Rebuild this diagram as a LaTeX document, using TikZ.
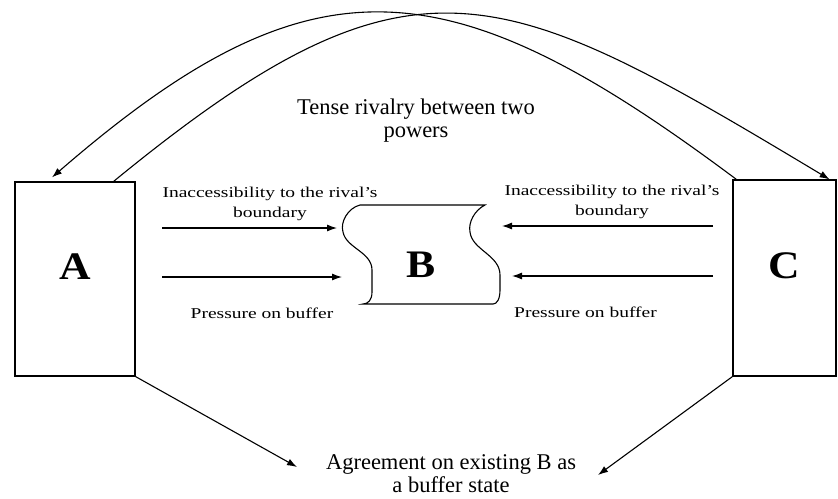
\documentclass[tikz,border=0pt]{standalone}
\usepackage{fontspec}
\setmainfont{Liberation Serif}
\newfontfamily\widefont[FakeStretch=1.3]{Liberation Serif}
\newfontfamily\letterfont[FakeStretch=1.12]{Liberation Serif}
\usetikzlibrary{arrows.meta}
\tikzstyle{link}=[draw, line width=1.1pt, -{Latex[length=10pt,width=7pt]}]
\tikzstyle{powerbox}=[draw, line width=1.2pt, inner sep=0pt, text depth=24pt,
    font=\letterfont\bfseries\fontsize{39}{39}\selectfont]
\tikzstyle{sidenote}=[inner sep=0pt, align=center, font=\widefont\fontsize{15}{20}\selectfont]
\tikzstyle{bigtext}=[inner sep=0pt, align=center, font=\fontsize{22.5}{23}\selectfont]

\begin{document}
\begin{tikzpicture}[x=1pt, y=-1pt, every edge/.style={link}]
\useasboundingbox (0,0) rectangle (838,498);
% the three states
\node[powerbox, minimum width=120pt, minimum height=194pt] (A) at (75,279) {A};
\node[powerbox, minimum width=103pt, minimum height=196pt] (C) at (784.5,278) {C};
\node[font=\letterfont\bfseries\fontsize{39}{39}\selectfont, inner sep=0pt] (B) at (421,265) {B};
\draw[line width=1.1pt] (360,205) -- (485,205)
    .. controls (475,210) and (468,222) .. (470,232)
    .. controls (472,250) and (500,255) .. (500,275) -- (500,290)
    .. controls (500,299) and (497,304) .. (493,304) -- (363,304)
    .. controls (368,304) and (372,300) .. (372,292) -- (372,270)
    .. controls (372,252) and (346,248) .. (343,232)
    .. controls (340,222) and (348,208) .. cycle;
% texts
\node[bigtext] (rivalry) at (416,121) {Tense rivalry between two\\powers};
\node[bigtext] (agree) at (451,473.5) {Agreement on existing B as\\a buffer state};
\node[sidenote] (accA) at (270,204) {Inaccessibility to the rival’s\\boundary};
\node[sidenote] (accC) at (612,201.5) {Inaccessibility to the rival’s\\boundary};
\node[sidenote] (pressA) at (262,313) {Pressure on buffer};
\node[sidenote] (pressC) at (585.5,312) {Pressure on buffer};
% arrow ends
\coordinate (A1) at (162,228);
\coordinate (A2) at (162,277);
\coordinate (C1) at (713,226);
\coordinate (C2) at (713,276);
\coordinate (Bw1) at (337,228);
\coordinate (Bw2) at (342,277);
\coordinate (Be1) at (502,226);
\coordinate (Be2) at (512,276);
\coordinate (agL) at (297,467);
\coordinate (agR) at (598,475);
\path
(A1) edge (Bw1)
(A2) edge (Bw2)
(C1) edge (Be1)
(C2) edge (Be2)
(A.south east) edge (agL)
(C.south west) edge (agR)
;
\draw[link] ([xshift=-22pt]A.north east) .. controls (413,-64) and (499,-19) .. ([xshift=-7pt]C.north east);
\draw[link] ([xshift=4pt]C.north west) .. controls (447,-37) and (312,-48) .. ([xshift=-23pt,yshift=4pt]A.north);
\end{tikzpicture}
\end{document}
